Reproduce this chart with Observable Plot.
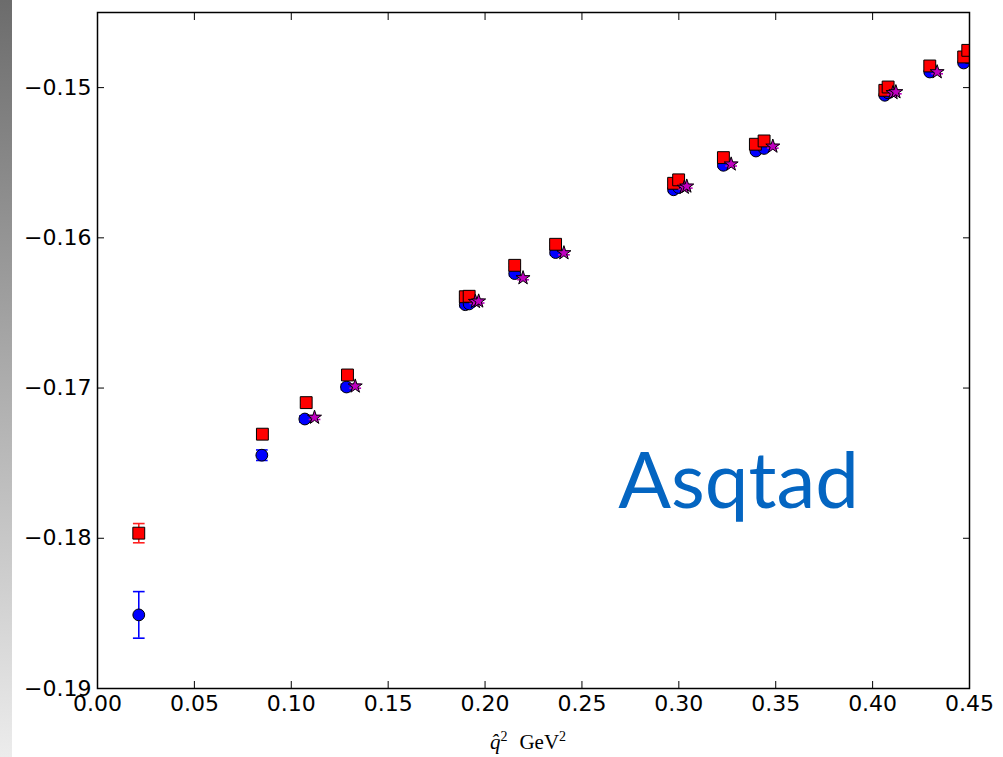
<!DOCTYPE html>
<html><head><meta charset="utf-8">
<script src="https://cdn.jsdelivr.net/npm/d3@7"></script>
<script src="https://cdn.jsdelivr.net/npm/@observablehq/plot@0.6"></script>
<style>
html,body{margin:0;padding:0;background:#fff;}
#wrap{position:relative;width:1003px;height:757px;overflow:hidden;}
#strip{position:absolute;left:0;top:0;width:12px;height:757px;background:linear-gradient(#6c6c6c,#ececec);}
#chart{position:absolute;left:0;top:0;}
</style></head><body>
<div id="wrap"><div id="strip"></div><div id="chart"></div></div>
<script>
// ---- data ----
const xTicks = [0.00, 0.05, 0.10, 0.15, 0.20, 0.25, 0.30, 0.35, 0.40, 0.45];
const yTicks = [-0.19, -0.18, -0.17, -0.16, -0.15];

// blue circles
const circleX   = [0.0213, 0.0848, 0.1070, 0.1285, 0.1898, 0.1918, 0.2153, 0.2364, 0.2973, 0.2999, 0.3230, 0.3398, 0.3440, 0.4063, 0.4080, 0.4295, 0.4470, 0.4491];
const circleY   = [-0.18510, -0.17447, -0.17206, -0.16993, -0.16445, -0.16440, -0.16238, -0.16098, -0.15680, -0.15665, -0.15517, -0.15422, -0.15405, -0.15051, -0.15035, -0.14896, -0.14836, -0.14800];
const circleErr = [0.00155, 0.00035, 0.00020, 0.00018, 0.00015, 0.00015, 0.00015, 0.00015, 0.00012, 0.00012, 0.00012, 0.00012, 0.00012, 0.00010, 0.00010, 0.00010, 0.00010, 0.00010];

// red squares
const squareX   = [0.0213, 0.0851, 0.1077, 0.1290, 0.1898, 0.1918, 0.2153, 0.2364, 0.2973, 0.2999, 0.3230, 0.3395, 0.3440, 0.4063, 0.4080, 0.4295, 0.4470, 0.4491];
const squareY   = [-0.17966, -0.17307, -0.17097, -0.16913, -0.16392, -0.16389, -0.16183, -0.16043, -0.15637, -0.15614, -0.15466, -0.15377, -0.15355, -0.15018, -0.14996, -0.14856, -0.14796, -0.14752];
const squareErr = [0.00064, 0.00015, 0.00012, 0.00012, 0.00010, 0.00010, 0.00010, 0.00010, 0.00010, 0.00010, 0.00010, 0.00010, 0.00010, 0.00008, 0.00008, 0.00008, 0.00008, 0.00008];

// magenta stars
const starX   = [0.1120, 0.1330, 0.1950, 0.1967, 0.2196, 0.2407, 0.3028, 0.3041, 0.3270, 0.3485, 0.4105, 0.4120, 0.4333];
const starY   = [-0.17196, -0.16988, -0.16425, -0.16422, -0.16267, -0.16101, -0.15665, -0.15657, -0.15510, -0.15391, -0.15035, -0.15029, -0.14896];
const starErr = [0.00013, 0.00013, 0.00012, 0.00012, 0.00012, 0.00012, 0.00012, 0.00012, 0.00012, 0.00012, 0.00012, 0.00012, 0.00012];

const annotation = [{label: "Asqtad", x: 0.2687, y: -0.17800}];

// ---- build tables ----
const circles = circleX.map((x, i) => ({x, y: circleY[i], e: circleErr[i]}));
const squares = squareX.map((x, i) => ({x, y: squareY[i], e: squareErr[i]}));
const stars   = starX.map((x, i) => ({x, y: starY[i], e: starErr[i]}));

const capSymbol = {draw(ctx, size) { const w = Math.sqrt(size) / 2; ctx.moveTo(-w, 0); ctx.lineTo(w, 0); }};

function series(data, {fill, errColor, symbol, r}) {
  return [
    Plot.ruleX(data, {x: "x", y1: d => d.y - d.e, y2: d => d.y + d.e, stroke: errColor, strokeWidth: 1.6, clip: true}),
    Plot.dot(data, {x: "x", y: d => d.y - d.e, symbol: capSymbol, r: 6.6, stroke: errColor, strokeWidth: 1.6, fill: "none", clip: true}),
    Plot.dot(data, {x: "x", y: d => d.y + d.e, symbol: capSymbol, r: 6.6, stroke: errColor, strokeWidth: 1.6, fill: "none", clip: true}),
    Plot.dot(data, {x: "x", y: "y", symbol, r, fill, stroke: "#000", strokeWidth: 1, clip: true})
  ];
}

const fmt = d3.format(".2f");
const plot = Plot.plot({
  width: 1003,
  height: 757,
  marginLeft: 97,
  marginRight: 34,
  marginTop: 12,
  marginBottom: 69,
  style: {fontFamily: "DejaVu Sans", color: "#000", background: "transparent", overflow: "visible"},
  x: {domain: [0, 0.45], label: null},
  y: {domain: [-0.19, -0.145], label: null},
  marks: [
    ...series(circles, {fill: "#0000ff", errColor: "#0000ff", symbol: "circle", r: 5.9}),
    ...series(squares, {fill: "#ff0000", errColor: "#ff2020", symbol: "square", r: 6.7}),
    ...series(stars,   {fill: "#bf00bf", errColor: "#bf00bf", symbol: "star", r: 4.4}),
    Plot.text(annotation, {x: "x", y: "y", text: "label", textAnchor: "start", lineAnchor: "bottom", fontSize: 78, fontFamily: "Lato", fill: "#0465c1"}),
    Plot.axisX(xTicks, {anchor: "bottom", tickSize: -7, tickPadding: 14, tickFormat: fmt, fontSize: 22, label: null}),
    Plot.axisX(xTicks, {anchor: "top", tickSize: -7, tickFormat: () => "", label: null}),
    Plot.axisY(yTicks, {anchor: "left", tickSize: -7, tickPadding: 13, tickFormat: fmt, fontSize: 22, label: null}),
    Plot.axisY(yTicks, {anchor: "right", tickSize: -7, tickFormat: () => "", label: null}),
    Plot.frame({stroke: "#000", strokeWidth: 1.5})
  ]
});
document.getElementById("chart").appendChild(plot);

// x-axis label (math-style)
const ns = "http://www.w3.org/2000/svg";
const lab = document.createElementNS(ns, "text");
lab.setAttribute("x", 528);
lab.setAttribute("y", 749);
lab.setAttribute("text-anchor", "middle");
lab.setAttribute("font-family", "Liberation Serif, DejaVu Serif, serif");
lab.setAttribute("font-size", "21");
lab.setAttribute("fill", "#000");
const parts = [
  {t: "q\u0302", style: "italic"},
  {t: "2", sup: true},
  {t: "GeV", dx: 12},
  {t: "2", sup: true}
];
for (const p of parts) {
  const ts = document.createElementNS(ns, "tspan");
  ts.textContent = p.t;
  if (p.style) ts.setAttribute("font-style", p.style);
  if (p.sup) { ts.setAttribute("font-size", "14"); ts.setAttribute("dy", "-8"); }
  else if (p.dx) { ts.setAttribute("dy", "8"); ts.setAttribute("dx", p.dx); }
  lab.appendChild(ts);
}
plot.appendChild(lab);
</script>
</body></html>
